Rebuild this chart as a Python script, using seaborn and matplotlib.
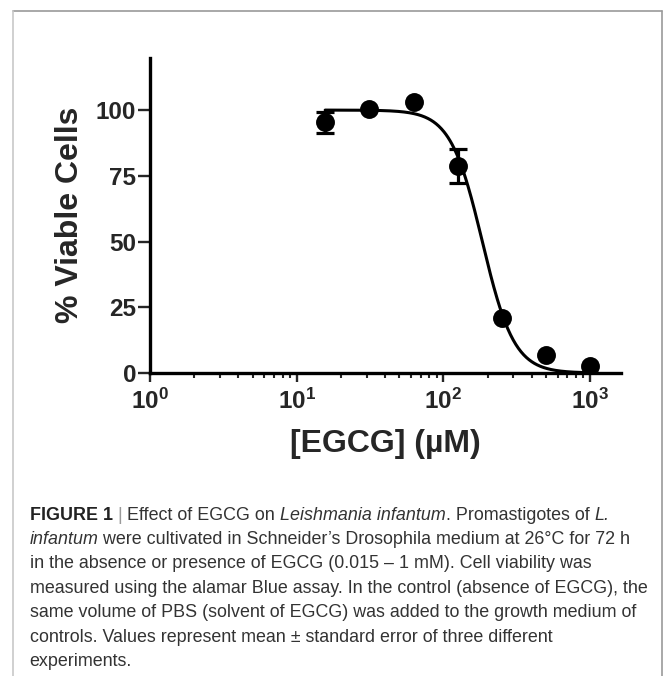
import numpy as np
import pandas as pd
import matplotlib
matplotlib.use("Agg")
import matplotlib.pyplot as plt
from matplotlib.lines import Line2D
from matplotlib.ticker import FixedLocator, NullFormatter
import seaborn as sns

# EGCG dose-response on L. infantum promastigotes
concentration_um = [15.625, 31.25, 62.5, 125, 250, 500, 1000]
viability_mean = [95.3, 100.6, 103.2, 78.7, 21.0, 6.7, 2.7]
viability_sem = [4.0, 1.2, 1.0, 6.6, 1.5, 1.0, 0.8]

# four-parameter logistic fit (top, bottom, IC50 in µM, Hill slope)
fit_top = 100.0
fit_bottom = 0.0
fit_ic50 = 184.0
fit_hill = 4.0

x_ticks = [1, 10, 100, 1000]
x_tick_labels = [r"$\mathbf{10^{0}}$", r"$\mathbf{10^{1}}$",
                 r"$\mathbf{10^{2}}$", r"$\mathbf{10^{3}}$"]
y_ticks = [0, 25, 50, 75, 100]
y_tick_labels = ["0", "25", "50", "75", "100"]
x_label = "[EGCG] (µM)"
y_label = "% Viable Cells"

caption_lines = [
    [("FIGURE 1", "bold"), (" | ", "bar"), ("Effect of EGCG on ", "normal"),
     ("Leishmania infantum", "italic"), (". Promastigotes of ", "normal"), ("L.", "italic")],
    [("infantum", "italic"),
     (" were cultivated in Schneider’s Drosophila medium at 26°C for 72 h", "normal")],
    [("in the absence or presence of EGCG (0.015 – 1 mM). Cell viability was", "normal")],
    [("measured using the alamar Blue assay. In the control (absence of EGCG), the", "normal")],
    [("same volume of PBS (solvent of EGCG) was added to the growth medium of", "normal")],
    [("controls. Values represent mean ± standard error of three different", "normal")],
    [("experiments.", "normal")],
]

sns.set_theme(style="ticks")
plt.rcParams.update({
    "font.family": ["Liberation Sans", "DejaVu Sans"],
    "mathtext.fontset": "custom",
    "mathtext.rm": "Liberation Sans",
    "mathtext.it": "Liberation Sans:italic",
    "mathtext.bf": "Liberation Sans:bold",
    "axes.linewidth": 2.4,
    "axes.edgecolor": "black",
})

W, H = 663, 676
fig = plt.figure(figsize=(W / 100, H / 100), dpi=100)
fig.patch.set_facecolor("white")

# axes box in pixel terms
ax_left, ax_right, ax_top, ax_bottom = 150, 621, 57.5, 373
ax = fig.add_axes([ax_left / W, (H - ax_bottom) / H,
                   (ax_right - ax_left) / W, (ax_bottom - ax_top) / H])
ax.set_facecolor("white")
ax.set_xscale("log")

y_min, y_max = 0, 120
marker_area = 185  # pt^2
marker_radius_units = (np.sqrt(marker_area) / 2 / 0.72) * (y_max - y_min) / (ax_bottom - ax_top)

df = pd.DataFrame({"conc": concentration_um, "mean": viability_mean, "sem": viability_sem})
# error bars shorter than the symbol are hidden behind it
df_err = df[df["sem"] > marker_radius_units]

x_fit = np.logspace(np.log10(min(concentration_um)), np.log10(max(concentration_um)), 400)
y_fit = fit_bottom + (fit_top - fit_bottom) / (1 + (x_fit / fit_ic50) ** fit_hill)
fit_df = pd.DataFrame({"conc": x_fit, "fit": y_fit})

sns.lineplot(data=fit_df, x="conc", y="fit", ax=ax, color="black", linewidth=2.2, zorder=2)
ax.errorbar(df_err["conc"], df_err["mean"], yerr=df_err["sem"], fmt="none", ecolor="black",
            elinewidth=2.3, capsize=6.5, capthick=2.3, zorder=3)
sns.scatterplot(data=df, x="conc", y="mean", ax=ax, s=marker_area, color="black",
                edgecolor="black", linewidth=0, zorder=4)

ax.set_xlim(1, 10 ** 3.21)
ax.set_ylim(y_min, y_max)
for side in ("top", "right"):
    ax.spines[side].set_visible(False)

ax.xaxis.set_major_locator(FixedLocator(x_ticks))
ax.set_xticklabels(x_tick_labels, fontsize=17.5)
ax.xaxis.set_minor_locator(FixedLocator(
    [m * 10 ** d for d in range(0, 3) for m in range(2, 10)]))
ax.xaxis.set_minor_formatter(NullFormatter())
ax.set_yticks(y_ticks)
ax.set_yticklabels(y_tick_labels, fontsize=17.5, fontweight="bold")

ax.tick_params(axis="x", which="major", length=6.5, width=1.7, pad=5, direction="out")
ax.tick_params(axis="x", which="minor", length=3.8, width=1.5, direction="out")
ax.tick_params(axis="y", which="major", length=8.5, width=1.7, pad=1.5, direction="out")

ax.set_xlabel(x_label, fontsize=23, fontweight="bold", labelpad=11)
ax.set_ylabel(y_label, fontsize=23, fontweight="bold", labelpad=8)

# panel frame
def px_line(x0, y0, x1, y1, color, lw):
    fig.add_artist(Line2D([x0 / W, x1 / W], [1 - y0 / H, 1 - y1 / H],
                          transform=fig.transFigure, color=color, linewidth=lw))

px_line(12.7, 10.5, 661.5, 10.5, "#9a9a9a", 1.2)
px_line(661.5, 10.5, 661.5, H, "#9a9a9a", 1.2)
px_line(12.7, 10.5, 12.7, H, "#c8c8c8", 1.2)

# caption, drawn run by run
renderer = fig.canvas.get_renderer()
cap_size = 12.85
cap_color = "#333333"

def run_width(s, **kw):
    t1 = fig.text(0, 0, "X" + s + "X", fontsize=cap_size, **kw)
    t2 = fig.text(0, 0, "XX", fontsize=cap_size, **kw)
    w = t1.get_window_extent(renderer).width - t2.get_window_extent(renderer).width
    t1.remove()
    t2.remove()
    return w

styles = {
    "normal": dict(color=cap_color),
    "italic": dict(color=cap_color, style="italic"),
    "bold": dict(color="#222222", fontweight="bold"),
    "bar": dict(color="#9a9a9a"),
}

baseline0, line_step, x_start = 519.6, 24.4, 29.6
for i, runs in enumerate(caption_lines):
    x = x_start
    yb = baseline0 + i * line_step
    for text, st in runs:
        kw = styles[st]
        fig.text(x / W, 1 - yb / H, text, fontsize=cap_size, va="baseline", ha="left", **kw)
        x += run_width(text, **kw)

fig.savefig("out.png", dpi=100, facecolor="white")
